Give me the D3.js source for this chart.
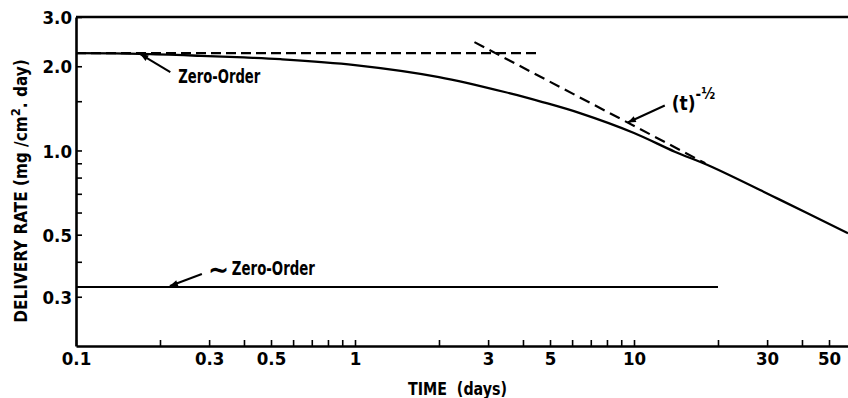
<!DOCTYPE html>
<html>
<head>
<meta charset="utf-8">
<script src="https://cdn.jsdelivr.net/npm/d3@7"></script>
<style>
  html, body { margin: 0; padding: 0; background: #fff; }
  svg { display: block; }
  .lbl { font-family: 'Liberation Sans Narrow', 'DejaVu Sans Condensed', 'Arial Narrow', sans-serif; font-weight: bold; font-stretch: condensed; fill: #000; }
</style>
</head>
<body>
<svg id="chart" width="848" height="398"></svg>
<script>
// Release profile (days, mg/cm^2·day)
const tDays = [0.1, 0.17, 0.28, 0.4, 0.54, 1, 2, 3.6, 4.7, 6.4, 10, 14, 18.7, 33, 58.5];
const rate  = [2.23, 2.215, 2.18, 2.15, 2.12, 2.02, 1.83, 1.60, 1.49, 1.36, 1.155, 0.99, 0.88, 0.67, 0.506];

// Zero-order reference (dashed)
const zeroOrderT = [0.1, 4.5];
const zeroOrderRate = [2.23, 2.23];

// t^-1/2 reference (dashed)
const sqrtT = [2.68, 18];
const sqrtRate = [2.44, 0.90];

// Near zero-order device (solid)
const nearZeroT = [0.1, 20];
const nearZeroRate = [0.325, 0.325];

// Axis ticks
const xTickValues = [0.1, 0.2, 0.3, 0.4, 0.5, 0.6, 0.7, 0.8, 0.9, 1, 2, 3, 4, 5, 6, 7, 8, 9, 10, 20, 30, 40, 50];
const xTickLabels = ["0.1", "0.3", "0.5", "1", "3", "5", "10", "30", "50"];
const yTickValues = [0.3, 0.4, 0.5, 0.6, 0.7, 0.8, 0.9, 1, 1.5, 2, 3];
const yTickLabels = ["0.3", "0.5", "1.0", "2.0", "3.0"];

const svg = d3.select("#chart");
const x = d3.scaleLog().domain([0.1, 100]).range([76, 913]);
const y = d3.scaleLog().domain([0.2, 3]).range([346, 17]);

const defs = svg.append("defs");
defs.append("marker")
  .attr("id", "arrow")
  .attr("markerUnits", "userSpaceOnUse")
  .attr("viewBox", "0 0 10 10")
  .attr("refX", 10).attr("refY", 5)
  .attr("markerWidth", 10).attr("markerHeight", 8)
  .attr("orient", "auto")
  .append("path").attr("d", "M0,1 L10,5 L0,9 Z").attr("fill", "#000");

// Axes
const fmtX = v => { const s = d3.format("~g")(v); return xTickLabels.includes(s) ? s : ""; };
const fmtY = v => { const s = d3.format(".1f")(v); return yTickLabels.includes(s) ? s : ""; };

const gx = svg.append("g").attr("transform", "translate(0,346)")
  .call(d3.axisBottom(x).tickValues(xTickValues).tickFormat(fmtX).tickSize(-6).tickSizeOuter(0).tickPadding(6));
const gy = svg.append("g").attr("transform", "translate(76,0)")
  .call(d3.axisLeft(y).tickValues(yTickValues).tickFormat(fmtY).tickSize(-6).tickSizeOuter(0).tickPadding(4));

[gx, gy].forEach(g => {
  g.select(".domain").attr("stroke", "#000").attr("stroke-width", 2.6);
  g.selectAll(".tick line").attr("stroke", "#000").attr("stroke-width", 1.6);
  g.selectAll(".tick text").attr("class", "lbl").attr("font-size", 18.5).attr("fill", "#000");
});
gy.selectAll(".tick text").attr("dy", "0.36em");

// Top frame
svg.append("line")
  .attr("x1", x(0.1)).attr("x2", x(100))
  .attr("y1", y(3)).attr("y2", y(3))
  .attr("stroke", "#000").attr("stroke-width", 2.4);

const line = d3.line().x(d => x(d[0])).y(d => y(d[1]));

// Release curve
svg.append("path")
  .datum(d3.zip(tDays, rate))
  .attr("d", line.curve(d3.curveCatmullRom.alpha(0.5)))
  .attr("fill", "none").attr("stroke", "#000").attr("stroke-width", 2.3);

const straight = d3.line().x(d => x(d[0])).y(d => y(d[1]));

svg.append("path")
  .datum(d3.zip(zeroOrderT, zeroOrderRate))
  .attr("d", straight)
  .attr("fill", "none").attr("stroke", "#000").attr("stroke-width", 2.2)
  .attr("stroke-dasharray", "10,5");

svg.append("path")
  .datum(d3.zip(sqrtT, sqrtRate))
  .attr("d", straight)
  .attr("fill", "none").attr("stroke", "#000").attr("stroke-width", 2.2)
  .attr("stroke-dasharray", "11,6");

svg.append("path")
  .datum(d3.zip(nearZeroT, nearZeroRate))
  .attr("d", straight)
  .attr("fill", "none").attr("stroke", "#000").attr("stroke-width", 2.2);

// Annotations: arrow from a label toward a point on a line
function arrowTo(tx, ty, dx, dy) {
  svg.append("line")
    .attr("x1", tx + dx).attr("y1", ty + dy)
    .attr("x2", tx).attr("y2", ty)
    .attr("stroke", "#000").attr("stroke-width", 2)
    .attr("marker-end", "url(#arrow)");
}

function label(px, py, str, size, width) {
  return svg.append("text").attr("class", "lbl").attr("font-size", size)
    .attr("x", px).attr("y", py)
    .attr("textLength", width).attr("lengthAdjust", "spacingAndGlyphs")
    .text(str);
}

// Zero-Order (upper)
{
  const px = x(0.17), py = y(2.23) + 1;
  arrowTo(px, py, 30, 18);
  label(px + 38, py + 29, "Zero-Order", 19, 82);
}

// ~Zero-Order (lower)
{
  const px = x(0.217), py = y(0.325) - 1;
  arrowTo(px, py, 32, -12);
  svg.append("text").attr("class", "lbl").attr("font-size", 28)
    .attr("x", px + 38).attr("y", py - 7).text("∼");
  label(px + 62, py - 11, "Zero-Order", 19, 83);
}

// (t)^-1/2
{
  const px = x(9.5), py = y(0.902 * Math.pow(9.5 / 17.97, -0.523));
  arrowTo(px, py, 37, -17);
  const t = svg.append("text").attr("class", "lbl").attr("font-size", 19)
    .attr("x", px + 44).attr("y", py - 12);
  t.append("tspan").text("(t)");
  t.append("tspan").attr("font-size", 15).attr("dy", -11).text("-½");
}

// Axis titles
svg.append("text").attr("class", "lbl").attr("font-size", 18)
  .attr("x", 408).attr("y", 395)
  .attr("textLength", 99).attr("lengthAdjust", "spacingAndGlyphs")
  .attr("xml:space", "preserve").text("TIME  (days)");

{
  const t = svg.append("text").attr("class", "lbl").attr("font-size", 17)
    .attr("text-anchor", "middle")
    .attr("transform", "translate(27,191) rotate(-90)");
  t.append("tspan").text("DELIVERY RATE (mg /cm");
  t.append("tspan").attr("font-size", 13).attr("dy", -7).text("2");
  t.append("tspan").attr("dy", 7).text(". day)");
}
</script>
</body>
</html>
